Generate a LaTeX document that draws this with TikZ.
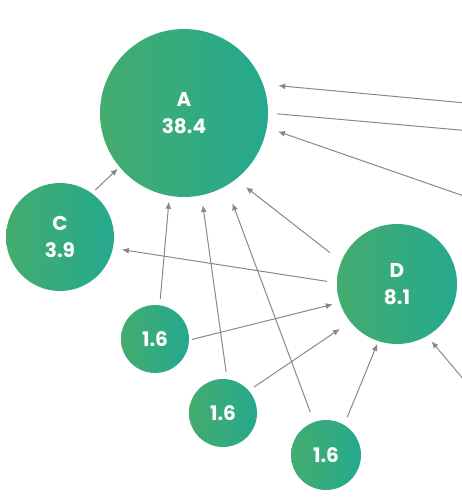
\documentclass[tikz,border=0pt]{standalone}
\usepackage{fontspec}
\setmainfont{Poppins}
\usetikzlibrary{arrows.meta}
\definecolor{gleft}{HTML}{44AC6E}
\definecolor{gright}{HTML}{25A98F}
\definecolor{edgegray}{HTML}{888888}
\begin{document}
\begin{tikzpicture}[x=1pt,y=-1pt,
  bubble/.style={circle, inner sep=0pt, outer sep=0pt, left color=gleft, right color=gright, text=white, align=center, font=\bfseries\fontsize{20}{27}\selectfont},
  link/.style={draw=edgegray, line width=1pt, -{Latex[length=7pt,width=6pt]}},
  plainlink/.style={draw=edgegray, line width=1pt}]
\useasboundingbox (0,0) rectangle (461,503);
\node[bubble, minimum size=168pt] (A) at (184,113) {A\\38.4};
\node[bubble, minimum size=108pt] (C) at (60,237) {C\\3.9};
\node[bubble, minimum size=120pt] (D) at (397,284) {D\\8.1};
\node[bubble, minimum size=68pt] (S1) at (155,339) {1.6};
\node[bubble, minimum size=68pt] (S2) at (223,413) {1.6};
\node[bubble, minimum size=70pt] (S3) at (326,455) {1.6};
\coordinate (e1) at (480,104.3);
\coordinate (e2) at (480,131.8);
\coordinate (e3) at (480,201.6);
\coordinate (e4) at (480,399);
\draw[link, shorten >=15.4pt] (e1) -- (A.20.5);
\draw[plainlink, shorten <=9pt] (A.0.5) -- (e2);
\draw[link, shorten >=11.9pt] (e3) -- (A.350.3);
\draw[link, shorten <=4.7pt, shorten >=2.6pt] (C.54.3) -- (A.220.3);
\draw[link, shorten <=6.3pt, shorten >=6.1pt] (S1.82.6) -- (A.260.8);
\draw[link, shorten <=7.3pt, shorten >=10pt] (S2.83.3) -- (A.282.1);
\draw[link, shorten <=10.9pt, shorten >=18.7pt] (S3.110.4) -- (A.300.4);
\draw[link, shorten <=14.3pt, shorten >=12.9pt] (D.158.3) -- (A.308.1);
\draw[link, shorten <=10.2pt, shorten >=9.2pt] (D.179.4) -- (C.348.8);
\draw[link, shorten <=3.1pt, shorten >=7.4pt] (S1.358.8) -- (D.198.8);
\draw[link, shorten <=6.5pt, shorten >=12.7pt] (S2.41.2) -- (D.219.2);
\draw[link, shorten <=8.5pt, shorten >=3pt] (S3.59.6) -- (D.252.7);
\draw[link, shorten >=7pt] (e4) -- (D.300.7);
\end{tikzpicture}
\end{document}
